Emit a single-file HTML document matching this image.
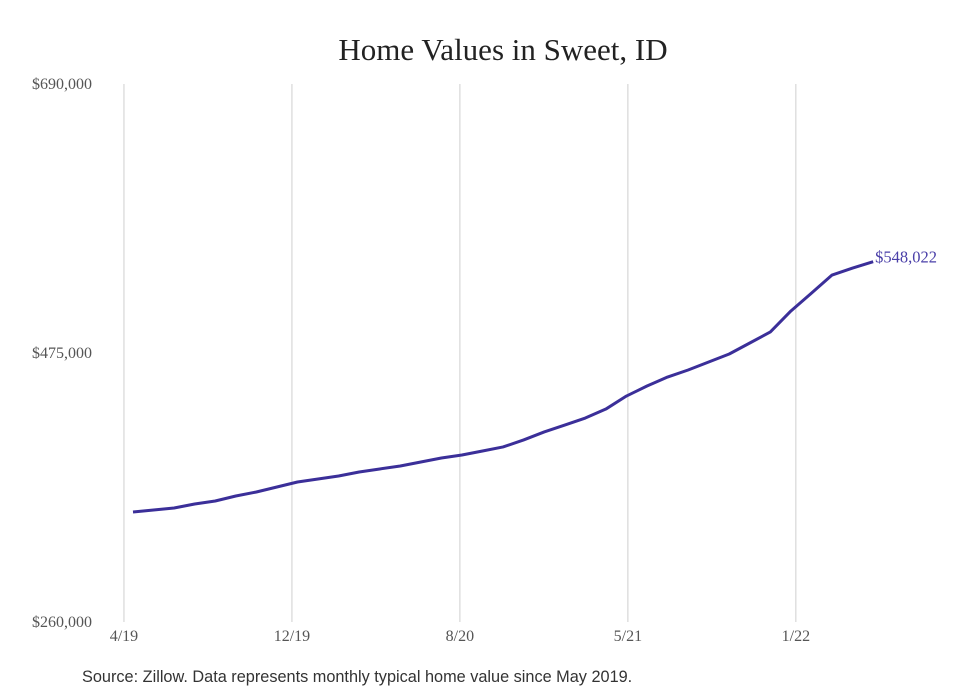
<!DOCTYPE html>
<html><head><meta charset="utf-8"><style>
body{margin:0;background:#fff;width:980px;height:699px;overflow:hidden}
svg{display:block}
</style></head><body>
<svg id="chart" width="980" height="699">
<text x="503" y="60" text-anchor="middle" font-family="Liberation Serif, serif" font-size="31" fill="#222">Home Values in Sweet, ID</text>
<g id="grid"></g><g id="yaxis"></g><g id="xaxis"></g><g id="series"></g>
<text x="82" y="682" font-family="Liberation Sans, sans-serif" font-size="16.3" fill="#333">Source: Zillow. Data represents monthly typical home value since May 2019.</text>
</svg>
<script>
const values=[347900,349500,351100,354300,356700,360700,363900,367900,371900,374300,376700,379900,382300,384700,387900,391100,393500,396700,399900,405500,411900,417400,423000,430200,440600,448600,455800,461400,467800,474200,483000,491800,508600,522900,537300,542900,548022];
const yTicks=[260000,475000,690000];
const yTickLabels=["$260,000","$475,000","$690,000"];
const xTickIdx=[-0.44,7.73,15.9,24.07,32.24];
const xTickLabels=["4/19","12/19","8/20","5/21","1/22"];
const lastLabel="$548,022";
const NS="http://www.w3.org/2000/svg";
const x=i=>133+i*20.56;
const y=v=>622-(v-260000)/430000*538;
function mk(t,a,p){const e=document.createElementNS(NS,t);for(const k in a)e.setAttribute(k,a[k]);p.appendChild(e);return e;}
const grid=document.getElementById('grid'),ya=document.getElementById('yaxis'),xa=document.getElementById('xaxis'),se=document.getElementById('series');
xTickIdx.forEach((t,k)=>{
 const l=mk('line',{x1:x(t),x2:x(t),y1:84,y2:622,stroke:'#cfcfcf','stroke-width':1},grid);
 
 
 const tx=mk('text',{x:x(t),y:641,'text-anchor':'middle','font-family':'Liberation Serif, serif','font-size':16,fill:'#555'},xa);
 tx.textContent=xTickLabels[k];
 
 
});
yTicks.forEach((v,k)=>{
 const tx=mk('text',{x:92,y:y(v)+5,'text-anchor':'end','font-family':'Liberation Serif, serif','font-size':16,fill:'#555'},ya);
 tx.textContent=yTickLabels[k];
 
 
});
const p=mk('polyline',{points:values.map((v,i)=>x(i)+','+y(v)).join(' '),fill:'none',stroke:'#3b2f99','stroke-width':3,'stroke-linejoin':'round'},se);


const n=values.length-1;
const lb=mk('text',{x:x(n)+2,y:y(values[n])+1,'font-family':'Liberation Serif, serif','font-size':16.5,fill:'#4a3fa8'},se);
lb.textContent=lastLabel;


</script>
</body></html>
